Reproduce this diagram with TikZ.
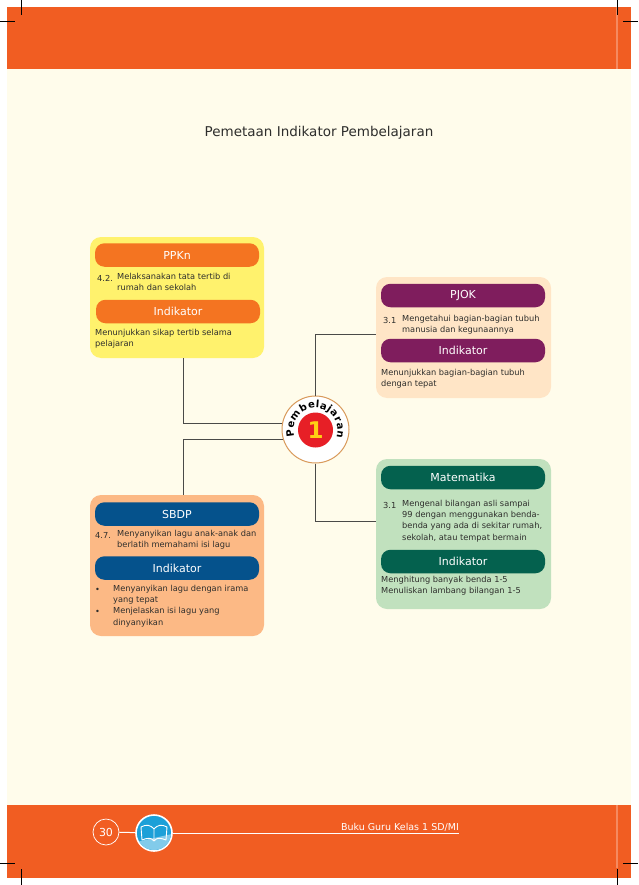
\documentclass[tikz,border=0pt]{standalone}
\usepackage{fontspec}
\setmainfont{DejaVu Sans}
\definecolor{band}{HTML}{F15D22}
\definecolor{cream}{HTML}{FFFCEB}
\definecolor{hdorange}{HTML}{F47421}
\definecolor{hdpurple}{HTML}{7F1D5D}
\definecolor{hdgreen}{HTML}{04614E}
\definecolor{hdblue}{HTML}{05528C}
\definecolor{fyellow}{HTML}{FFF26D}
\definecolor{fpeach}{HTML}{FFE5C6}
\definecolor{fgreen}{HTML}{C1E1BE}
\definecolor{forange}{HTML}{FCB985}
\definecolor{ink}{HTML}{2E2E2C}
\definecolor{conn}{HTML}{4A4A48}
\definecolor{hubring}{HTML}{D99A5B}
\definecolor{hubred}{HTML}{E71F26}
\definecolor{hubyellow}{HTML}{FFD114}
\definecolor{iconblue}{HTML}{1CA0D8}
\tikzset{
  panel/.style={rounded corners=11pt,inner sep=0pt,draw=none},
  header/.style={rounded corners=9.5pt,inner sep=0pt,minimum width=164pt,minimum height=23.5pt,text=white,font=\fontsize{11}{12}\selectfont},
  body/.style={anchor=west,inner sep=0pt,align=left,text=ink,font=\fontsize{8.25}{11.2}\selectfont},
  hubletter/.style={anchor=base,inner sep=0pt,text=black,font=\fontsize{10}{12}\selectfont\bfseries},
  link/.style={draw=conn,line width=1pt},
  crop/.style={draw=black,line width=0.7pt}
}
\begin{document}
\begin{tikzpicture}[x=1pt,y=-1pt]
\useasboundingbox (0,0) rectangle (638,885);
\fill[white] (0,0) rectangle (638,885);
\fill[cream] (7,7) rectangle (631,878);
\fill[band] (7,7) rectangle (631,69);
\fill[band] (7,805) rectangle (631,878);
\fill[band!72!white] (616.3,7) rectangle (617.8,69);
\fill[band!72!white] (616.3,805) rectangle (617.8,868);
% crop marks
\draw[crop] (21,0) -- (21,15);
\draw[crop] (0,21) -- (15,21);
\draw[crop] (617,0) -- (617,15);
\draw[crop] (623,21) -- (638,21);
\draw[crop] (21,869) -- (21,885);
\draw[crop] (0,863) -- (15,863);
\draw[crop] (617,869) -- (617,885);
\draw[crop] (623,863) -- (638,863);
% title
\node[text=ink,inner sep=0pt,font=\fontsize{13.5}{15}\selectfont] (title) at (319,133) {Pemetaan Indikator Pembelajaran};
% panels
\node[panel,fill=fyellow,minimum width=174pt,minimum height=121pt] (ppkn) at (177,297.5) {};
\node[panel,fill=fpeach,minimum width=175pt,minimum height=121pt] (pjok) at (463.5,337.5) {};
\node[panel,fill=fgreen,minimum width=175pt,minimum height=150pt] (mat) at (463.5,534) {};
\node[panel,fill=forange,minimum width=174pt,minimum height=141pt] (sbdp) at (177,565.5) {};
% headers
\node[header,fill=hdorange] (h1) at (177,255) {PPKn};
\node[header,fill=hdorange] (h2) at (178,311.5) {Indikator};
\node[header,fill=hdpurple] (h3) at (463,295.5) {PJOK};
\node[header,fill=hdpurple] (h4) at (463,350.5) {Indikator};
\node[header,fill=hdgreen] (h5) at (463,477.5) {Matematika};
\node[header,fill=hdgreen] (h6) at (463,561.5) {Indikator};
\node[header,fill=hdblue] (h7) at (177,514) {SBDP};
\node[header,fill=hdblue] (h8) at (177,568) {Indikator};
% texts
\node[body] (t1a) at (97,278.5) {4.2.};
\node[body,anchor=north west] (t1b) at (117,273) {Melaksanakan tata tertib di\\rumah dan sekolah};
\node[body] (t2) at (95,338.5) {Menunjukkan sikap tertib selama\\pelajaran};
\node[body] (t3a) at (383,320.5) {3.1};
\node[body,anchor=north west] (t3b) at (402,315) {Mengetahui bagian-bagian tubuh\\manusia dan kegunaannya};
\node[body] (t4) at (381,378.5) {Menunjukkan bagian-bagian tubuh\\dengan tepat};
\node[body] (t5a) at (383,505.5) {3.1};
\node[body,anchor=north west] (t5b) at (402,500) {Mengenal bilangan asli sampai\\99 dengan menggunakan benda-\\benda yang ada di sekitar rumah,\\sekolah, atau tempat bermain};
\node[body] (t6) at (381,585.5) {Menghitung banyak benda 1-5\\Menuliskan lambang bilangan 1-5};
\node[body] (t7a) at (95,535.5) {4.7.};
\node[body,anchor=north west] (t7b) at (117,530) {Menyanyikan lagu anak-anak dan\\berlatih memahami isi lagu};
\node[body] (t8a) at (95,590.5) {•};
\node[body] (t8b) at (95,612.5) {•};
\node[body,anchor=north west] (t8c) at (113,585) {Menyanyikan lagu dengan irama\\yang tepat\\Menjelaskan isi lagu yang\\dinyanyikan};
% hub
\node[circle,draw=hubring,line width=1pt,fill=white,minimum size=67pt,inner sep=0pt] (hub) at (315.5,429.5) {};
\node[circle,fill=hubred,minimum size=35pt,inner sep=0pt,text=hubyellow,font=\fontsize{23}{24}\selectfont\bfseries] (num) at (315.5,430) {1};
\foreach \a/\c [count=\i] in {188/P,168/e,144/m,119/b,99/e,85/l,71/a,56/j,42/a,26/r,9/a,-10/n}
  \node[hubletter,rotate=\a-90] (letter\i) at ({315.5+22*cos(\a)},{430-22*sin(\a)}) {\c};
% connector end coordinates
\coordinate (xleft) at (183,0);
\coordinate (ytop) at (0,334);
\coordinate (ybot) at (0,521);
\draw[link] (ppkn.south -| xleft) |- (hub.170);
\draw[link] (sbdp.north -| xleft) |- (hub.197);
\draw[link] (pjok.west |- ytop) -| (hub.north);
\draw[link] (hub.south) |- (mat.west |- ybot);
% footer
\node[circle,draw=white,line width=0.7pt,minimum size=26pt,inner sep=0pt,text=white,font=\fontsize{11}{12}\selectfont] (page) at (106,832) {30};
\node[circle,draw=white,fill=iconblue,line width=1.6pt,minimum size=36pt,inner sep=0pt] (icon) at (154,833) {};
\coordinate (lineend) at (459,833);
\draw[white,line width=1pt] (page) -- (icon);
\draw[white,line width=1pt] (icon) -- (lineend);
\node[anchor=south east,inner sep=0pt,text=white,font=\fontsize{9.5}{10}\selectfont] (foot) at (459,831.5) {Buku Guru Kelas 1 SD/MI};
% book glyph
\begin{scope}
\clip (154,833) circle[radius=17];
\fill[iconblue!55!white] (136,842) -- (172,834) -- (172,852) -- (136,852) -- cycle;
\end{scope}
\draw[white,line width=0.9pt,line join=round] (154,841) .. controls (151,837) and (147,838) .. (142,840) -- (141,827) .. controls (146,824) and (151,825) .. (154,829) .. controls (157,825) and (162,824) .. (167,827) -- (166,840) .. controls (161,838) and (157,837) .. (154,841) -- (154,829);
\end{tikzpicture}
\end{document}
